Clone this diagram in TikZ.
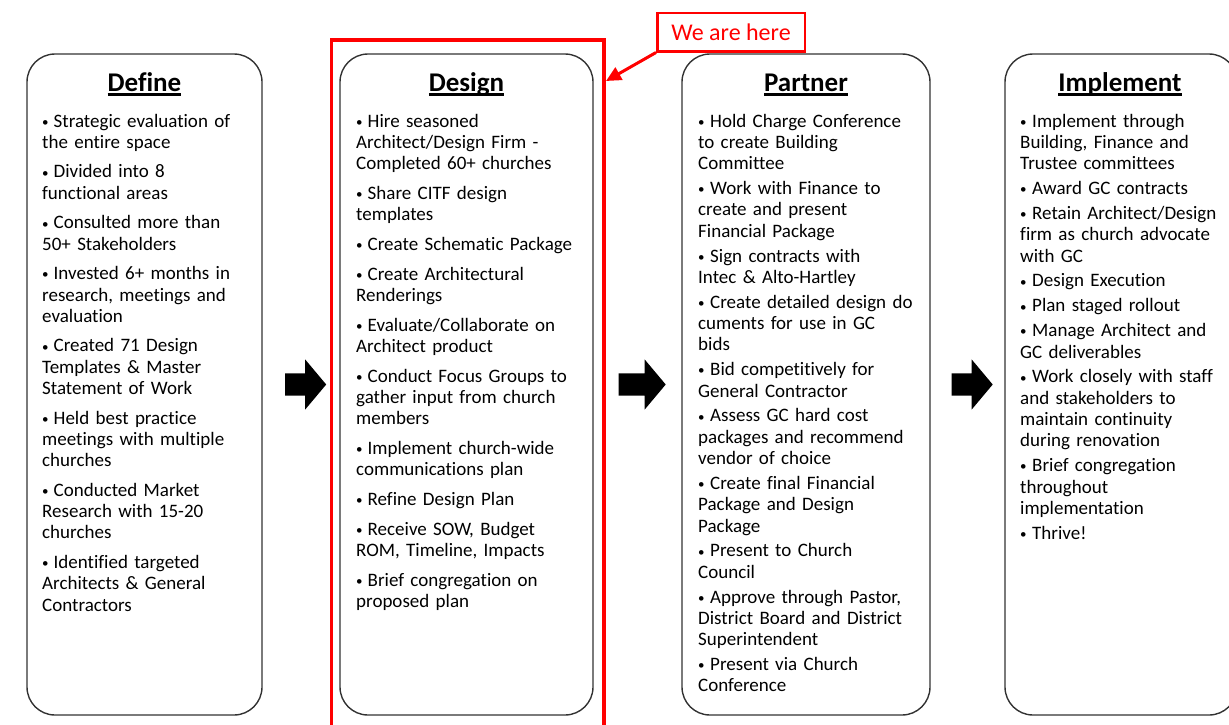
\documentclass[tikz,border=0pt]{standalone}
\usepackage{fontspec}
\setmainfont{Carlito}[Ligatures=NoCommon]
\usetikzlibrary{arrows.meta,shapes.arrows,calc}
\definecolor{edgegray}{RGB}{50,50,50}
\definecolor{herered}{RGB}{255,0,0}
% bullet lines: flat (wrapped lines under the bullet) and hanging
\newcommand{\smallbul}{\raisebox{0.8pt}{\fontsize{13}{13}\selectfont\textbullet}}
\newcommand{\plainitem}[1]{\noindent\makebox[11.5pt][l]{\smallbul}#1\par}
\newcommand{\hangitem}[1]{\hangindent=12pt\hangafter=1\noindent\makebox[12pt][l]{\smallbul}#1\par}
\newcommand{\headul}[1]{\setbox0\hbox{#1}\rlap{\rule[-4.5pt]{\wd0}{2.4pt}}\box0}

\begin{document}
\begin{tikzpicture}[x=1pt, y=-1pt,
    phase/.style={draw=edgegray, line width=1.4pt, rounded corners=28pt, minimum height=661pt, inner sep=0pt},
    heading/.style={anchor=base, font=\fontsize{27}{32}\selectfont\bfseries},
    steps/.style={anchor=base west, text width=260pt, inner sep=0pt, font=\fontsize{19}{21.3}\selectfont},
    blockarrow/.style={single arrow, fill=black, minimum height=41pt, inner xsep=0pt, inner ysep=11pt, single arrow head extend=14pt, single arrow tip angle=100},
    herebox/.style={draw=herered, line width=2.5pt, text=herered, minimum width=147.5pt, minimum height=38.5pt, font=\fontsize{24}{28}\selectfont},
    hereframe/.style={draw=herered, line width=3.5pt, minimum width=272.5pt, minimum height=700pt},
    pointer/.style={draw=herered, line width=3pt, -{Triangle[length=15pt,width=14pt]}}]
\useasboundingbox (0,0) rectangle (1229,724);

% phase boxes
\node (define) at (144.5,384.5) [phase, minimum width=235pt] {};
\node (design) at (466.5,384.5) [phase, minimum width=253pt] {};
\node (partner) at (806,384.5) [phase, minimum width=248pt] {};
\node (implement) at (1121,384.5) [phase, minimum width=232pt] {};

% headings
\node (defineT) at (144.5,91) [heading] {\headul{Define}};
\node (designT) at (466.5,91) [heading] {\headul{Design}};
\node (partnerT) at (806,91) [heading] {\headul{Partner}};
\node (implementT) at (1120,91) [heading] {\headul{Implement}};

% bullet lists
\node (defineL) at (42,127) [steps] {\setlength{\parskip}{8.3pt}%
\plainitem{Strategic evaluation of\\the entire space}
\plainitem{Divided into 8\\functional areas}
\plainitem{Consulted more than\\50+ Stakeholders}
\plainitem{Invested 6+ months in\\research, meetings and\\evaluation}
\plainitem{Created 71 Design\\Templates \& Master\\Statement of Work}
\plainitem{Held best practice\\meetings with multiple\\churches}
\plainitem{Conducted Market\\Research with 15-20\\churches}
\plainitem{Identified targeted\\Architects \& General\\Contractors}};

\node (designL) at (356,127) [steps] {\setlength{\parskip}{8.4pt}%
\plainitem{Hire seasoned\\Architect/Design Firm -\\Completed 60+ churches}
\plainitem{Share CITF design\\templates}
\plainitem{Create Schematic Package}
\plainitem{Create Architectural\\Renderings}
\plainitem{Evaluate/Collaborate on\\Architect product}
\plainitem{Conduct Focus Groups to\\gather input from church\\members}
\plainitem{Implement church-wide\\communications plan}
\plainitem{Refine Design Plan}
\plainitem{Receive SOW, Budget\\ROM, Timeline, Impacts}
\plainitem{Brief congregation on\\proposed plan}};

\node (partnerL) at (698,127) [steps] {\setlength{\parskip}{3.6pt}%
\hangitem{Hold Charge Conference\\to create Building\\Committee}
\hangitem{Work with Finance to\\create and present\\Financial Package}
\hangitem{Sign contracts with\\Intec \& Alto-Hartley}
\hangitem{Create detailed design do\\cuments for use in GC\\bids}
\hangitem{Bid competitively for\\General Contractor}
\hangitem{Assess GC hard cost\\packages and recommend\\vendor of choice}
\hangitem{Create final Financial\\Package and Design\\Package}
\hangitem{Present to Church\\Council}
\hangitem{Approve through Pastor,\\District Board and District\\Superintendent}
\hangitem{Present via Church\\Conference}};

\node (implementL) at (1020,127) [steps] {\setlength{\parskip}{3.6pt}%
\hangitem{Implement through\\Building, Finance and\\Trustee committees}
\hangitem{Award GC contracts}
\hangitem{Retain Architect/Design\\firm as church advocate\\with GC}
\hangitem{Design Execution}
\hangitem{Plan staged rollout}
\hangitem{Manage Architect and\\GC deliverables}
\hangitem{Work closely with staff\\and stakeholders to\\maintain continuity\\during renovation}
\hangitem{Brief congregation\\throughout\\implementation}
\hangitem{Thrive!}};

% arrows between phases
\node (arr1) at ($(define.east)!0.5!(design.west)$) [blockarrow] {};
\node (arr2) at ($(design.east)!0.5!(partner.west)$) [blockarrow, minimum height=47pt] {};
\node (arr3) at ($(partner.east)!0.5!(implement.west)$) [blockarrow] {};

% current phase marker
\node (frame) at (467.75,390) [hereframe] {};
\node (here) at (731,32) [herebox] {We are here};
\coordinate (hit) at (606,81);
\draw[pointer] (here.south west) -- (hit);
\end{tikzpicture}
\end{document}
